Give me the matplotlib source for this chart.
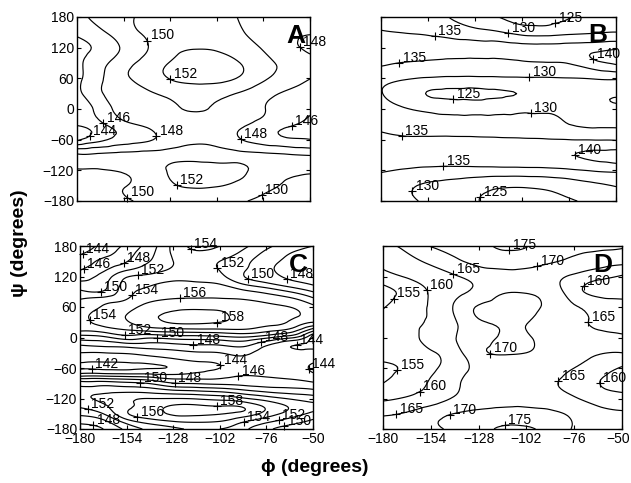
import numpy as np
import matplotlib
matplotlib.use("Agg")
import matplotlib.pyplot as plt
import matplotlib.tri as mtri
from matplotlib.transforms import ScaledTranslation

plt.rcParams['font.family'] = ['Liberation Sans', 'DejaVu Sans']

# ---------------- data ----------------
PHI = [-180, -167, -154, -141, -128, -115, -102, -89, -76, -63, -50]
PSI = [180, 150, 120, 90, 60, 30, 0, -30, -60, -90, -120, -150, -180]
PSI_C = [180, 165, 150, 135, 120, 105, 90, 75, 60, 45, 30, 15, 0,
         -15, -30, -45, -60, -75, -90, -105, -120, -135, -150, -165, -180]

X_TICKS = [-180, -154, -128, -102, -76, -50]
Y_TICKS = [-180, -120, -60, 0, 60, 120, 180]

LEVELS_A = [144, 146, 148, 150, 152]
LEVELS_B = [125, 130, 135, 140]
LEVELS_C = [142, 144, 146, 148, 150, 152, 154, 156, 158]
LEVELS_D = [155, 160, 165, 170, 175]

# panel A energies, one row per psi (180 .. -180), columns follow PHI
A_ROWS = [
    [147.5, 148.6, 149.6, 150.4, 150.9, 151.1, 150.7, 149.9, 149.2, 148.6, 148.3],
    [146.4, 147.6, 149.2, 150.3, 151.2, 151.5, 151.2, 150.2, 149.2, 148.4, 148.1],
    [145.5, 146.5, 148.3, 149.9, 151.4, 151.9, 151.8, 151.0, 149.8, 148.5, 147.7],
    [145.6, 147.3, 149.2, 150.7, 152.1, 153.0, 152.8, 152.0, 150.6, 149.5, 148.6],
    [145.5, 147.7, 149.6, 150.8, 152.1, 152.7, 152.6, 151.8, 150.3, 149.1, 148.05],
    [145.4, 147.8, 148.9, 149.7, 150.4, 150.8, 150.6, 149.8, 148.7, 147.7, 147.1],
    [144.9, 146.7, 148.9, 149.2, 149.7, 150.1, 149.8, 149.0, 148.1, 147.0, 146.2],
    [144.3, 145.6, 147.4, 148.4, 149.1, 149.4, 149.2, 148.4, 147.3, 146.3, 145.7],
    [143.6, 145.5, 146.9, 147.7, 149.0, 149.7, 149.4, 148.1, 147.0, 146.3, 146.05],
    [150.3, 150.4, 150.6, 150.8, 151.0, 151.1, 151.0, 150.8, 150.5, 150.2, 149.9],
    [149.8, 149.8, 150.3, 151.0, 152.2, 152.8, 152.6, 152.3, 151.3, 150.6, 150.4],
    [149.0, 149.4, 149.9, 150.8, 151.8, 152.2, 152.1, 151.5, 150.5, 149.8, 149.3],
    [148.6, 149.1, 149.7, 150.4, 150.9, 151.1, 150.8, 150.2, 149.6, 149.0, 148.6],
]

B_ROWS = [
    [133.0, 132.5, 131.5, 129.8, 127.8, 125.0, 124.3, 124.2, 124.9, 126.2, 127.5],
    [135.5, 134.8, 134.2, 133.0, 131.7, 130.5, 128.2, 127.8, 128.8, 129.5, 130.1],
    [137.5, 137.5, 136.8, 136.5, 136.5, 136.5, 136.5, 136.6, 137.0, 138.0, 139.0],
    [135.8, 134.8, 134.4, 134.0, 133.8, 133.8, 134.3, 134.7, 135.3, 138.5, 140.8],
    [131.5, 130.5, 129.6, 129.2, 129.2, 129.4, 129.6, 129.7, 129.9, 130.2, 130.6],
    [130.2, 127.5, 124.8, 124.2, 124.0, 124.5, 125.3, 127.2, 128.3, 129.2, 129.5],
    [131.5, 130.3, 129.0, 128.4, 128.3, 128.6, 129.1, 129.5, 129.6, 129.5, 129.4],
    [133.5, 132.6, 132.0, 131.6, 131.5, 131.2, 130.9, 130.6, 130.0, 129.5, 129.4],
    [136.5, 135.8, 136.0, 136.2, 136.1, 135.9, 135.7, 135.4, 135.0, 134.8, 134.6],
    [137.5, 137.2, 137.6, 138.0, 138.3, 138.5, 138.7, 139.0, 139.7, 140.8, 141.5],
    [135.5, 134.6, 133.8, 133.4, 133.3, 133.3, 133.4, 133.6, 134.3, 135.4, 136.2],
    [133.0, 131.0, 129.3, 128.3, 127.0, 125.8, 125.6, 126.2, 127.5, 129.0, 130.2],
    [134.0, 131.5, 129.0, 127.0, 125.3, 124.0, 123.5, 123.7, 124.7, 125.6, 127.0],
]

# panel C energies, one column per phi (PHI order), values follow PSI_C
C_COLS = [
    [143.2, 143.8, 145.0, 145.8, 147.0, 148.6, 150.5, 152.0, 153.0, 153.5, 153.5, 152.5, 149.0,
     146.0, 144.0, 142.6, 141.7, 145.5, 151.0, 153.0, 153.5, 152.3, 150.5, 148.5, 147.0],
    [144.5, 145.3, 146.5, 147.5, 148.8, 149.4, 150.2, 152.8, 154.2, 154.8, 154.6, 153.0, 149.5,
     146.5, 144.0, 142.4, 141.6, 145.6, 151.0, 153.4, 154.5, 153.6, 152.0, 149.5, 148.0],
    [146.5, 147.2, 147.9, 149.5, 151.8, 152.8, 153.3, 154.0, 155.3, 156.0, 155.8, 154.0, 151.0,
     147.0, 144.2, 142.5, 141.6, 145.3, 150.5, 153.5, 155.5, 155.5, 155.8, 153.0, 150.5],
    [149.0, 149.5, 150.0, 151.0, 152.5, 153.8, 154.5, 155.5, 156.8, 157.5, 157.3, 154.8, 150.3,
     147.2, 144.8, 142.8, 141.9, 145.0, 149.8, 153.2, 156.0, 157.0, 157.2, 155.0, 152.5],
    [152.5, 152.3, 152.0, 152.2, 153.2, 154.5, 155.3, 156.1, 157.5, 158.3, 158.2, 155.3, 150.8,
     147.5, 145.3, 143.5, 142.2, 144.5, 148.1, 152.4, 156.0, 158.2, 158.3, 156.0, 153.5],
    [154.5, 153.6, 152.8, 152.6, 153.1, 154.4, 155.3, 156.2, 157.6, 158.5, 158.3, 155.5, 151.0,
     147.9, 145.8, 144.2, 143.4, 144.8, 147.8, 152.0, 155.8, 158.3, 158.4, 156.3, 154.3],
    [154.0, 153.0, 152.0, 151.9, 152.5, 154.0, 155.2, 156.2, 157.6, 158.2, 158.0, 155.6, 151.3,
     148.0, 146.0, 144.6, 144.0, 145.3, 147.5, 151.5, 155.3, 158.0, 158.1, 156.0, 154.0],
    [152.5, 151.5, 150.7, 150.3, 150.1, 152.0, 154.5, 156.0, 157.4, 157.7, 157.5, 155.8, 151.8,
     148.5, 146.5, 145.5, 145.2, 146.0, 147.3, 150.5, 154.3, 157.7, 157.3, 154.3, 152.5],
    [150.5, 149.5, 148.8, 148.5, 148.8, 150.5, 153.5, 155.3, 156.8, 157.3, 156.8, 154.8, 150.5,
     146.2, 145.0, 144.6, 144.8, 145.8, 147.0, 149.5, 153.0, 155.6, 155.2, 152.5, 150.5],
    [149.0, 148.0, 147.5, 147.2, 147.6, 149.0, 152.0, 154.5, 156.0, 156.5, 155.8, 153.5, 148.5,
     144.2, 145.0, 145.0, 144.8, 145.5, 146.8, 149.0, 151.8, 153.8, 153.2, 151.0, 149.0],
    [148.0, 147.0, 146.5, 146.3, 146.6, 147.8, 150.0, 152.5, 154.5, 155.0, 154.0, 149.0, 143.8,
     143.5, 144.8, 144.5, 143.6, 144.5, 146.3, 148.5, 151.0, 152.5, 151.5, 149.5, 148.0],
]

D_ROWS = [
    [163.5, 166.5, 170.2, 171.5, 173.8, 175.5, 175.2, 172.5, 171.0, 170.8, 170.5],
    [161.0, 163.5, 166.0, 169.0, 171.5, 172.5, 172.0, 170.5, 169.0, 167.5, 166.5],
    [158.0, 160.5, 162.5, 164.5, 167.0, 168.5, 168.5, 167.0, 164.0, 161.5, 159.5],
    [153.5, 156.5, 160.5, 163.5, 166.5, 169.6, 169.7, 168.0, 162.0, 158.5, 158.0],
    [154.6, 158.0, 160.5, 165.5, 170.4, 171.0, 171.0, 168.8, 165.5, 163.5, 162.5],
    [157.0, 159.0, 160.5, 164.5, 169.2, 170.3, 170.1, 168.0, 166.0, 164.5, 163.8],
    [158.0, 158.8, 161.5, 164.8, 168.0, 170.4, 170.3, 168.5, 166.5, 166.0, 165.7],
    [157.0, 157.5, 159.5, 163.0, 168.8, 170.3, 170.0, 168.5, 166.5, 165.3, 165.0],
    [154.2, 155.8, 159.0, 162.5, 166.5, 168.5, 168.5, 167.0, 165.0, 162.5, 159.5],
    [155.0, 157.5, 160.5, 164.0, 167.5, 169.0, 168.8, 165.8, 163.5, 160.2, 158.0],
    [159.0, 160.5, 162.5, 165.5, 167.5, 168.5, 168.5, 167.5, 165.5, 163.0, 162.0],
    [164.5, 165.5, 168.0, 170.1, 171.3, 172.0, 172.0, 171.0, 169.0, 166.5, 165.5],
    [166.0, 167.5, 169.0, 171.0, 173.5, 175.5, 175.4, 173.5, 169.6, 168.5, 168.0],
]

# approximate spots of the contour labels (phi, psi)
LABELS_A = [(-140.2, 135), (-128.1, 56.7), (-164.4, -21.5), (-172.7, -54), (-135.2, -54),
            (-87.2, -50.9), (-60.2, -34.6), (-56.5, 118.7), (-124.4, -148.7),
            (-150.8, -166.9), (-77.9, -161.8)]
LABELS_B = [(-150.5, 133.7), (-109.6, 148), (-83.7, 167.6), (-170, 90.7), (-98.1, 62),
            (-62.5, 97.2), (-140, 22.8), (-97.6, -18.3), (-168.6, -52.8), (-73, -91.3),
            (-145.5, -107.6), (-164, -158.5), (-128, -163.7)]
LABELS_C = [(-179, 169.5), (-177.2, 130), (-155.8, 146.6), (-147.5, 117), (-168.8, 94),
            (-118.6, 172.8), (-105.6, 133.4), (-86, 120.3), (-64.7, 113.8), (-148.4, 74.4),
            (-124.2, 74.4), (-103.7, 38.4), (-174.4, 35), (-154.9, 5.6), (-136.9, -1),
            (-116.8, -17.4), (-78.6, -14), (-59, -12.8), (-173.5, -63.3), (-101, -53),
            (-91.7, -79.7), (-52.6, -63.3), (-146.5, -89.5), (-127, -89.5), (-175.4, -138.7),
            (-147.5, -148.5), (-103.8, -138.7), (-172.6, -171.5), (-88.9, -163.6),
            (-69.3, -158.4), (-66, -177)]
LABELS_D = [(-175.6, 80), (-151.2, 102), (-140.3, 139), (-96.4, 144), (-111.3, 172),
            (-70.1, 98.7), (-74.7, 34), (-121.2, -28), (-171.7, -66), (-159.9, -106.6),
            (-85.5, -85), (-64.7, -93.6), (-172.2, -161), (-142.6, -165.6), (-113.6, -174)]

# ---------------- drawing ----------------
fig = plt.figure(figsize=(6.31, 4.83), dpi=100)

W, H = 631.0, 483.0
def rect(l, r, t, b):
    return [l / W, 1 - b / H, (r - l) / W, (b - t) / H]

axA = fig.add_axes(rect(77, 310, 17, 201))
axB = fig.add_axes(rect(381, 616, 17, 201))
axC = fig.add_axes(rect(80, 313, 246, 429))
axD = fig.add_axes(rect(383, 622, 246, 429))


def grid_tri(phi, psi):
    P, S = np.meshgrid(phi, psi)
    nx, ny = len(phi), len(psi)
    tris = []
    for j in range(ny - 1):
        for i in range(nx - 1):
            a = j * nx + i
            b = a + 1
            c = a + nx
            d = c + 1
            tris.append([a, b, d])
            tris.append([a, d, c])
    return mtri.Triangulation(P.ravel(), S.ravel(), np.array(tris))


def panel(ax, phi, psi, z, levels, label_pts, letter, letter_xy, xlab, ylab):
    tri = grid_tri(phi, psi)
    zz = np.asarray(z, dtype=float).ravel()
    interp = mtri.CubicTriInterpolator(tri, zz, kind='min_E')
    refiner = mtri.UniformTriRefiner(tri)
    rt, rz = refiner.refine_field(zz, triinterpolator=interp, subdiv=3)
    cs = ax.tricontour(rt, rz, levels=levels, colors='k', linewidths=0.85)
    texts = ax.clabel(cs, manual=label_pts, inline=False, fmt='%d', fontsize=9)
    for t in list(texts):
        x, y = t.get_position()
        s = t.get_text()
        t.remove()
        ax.plot([x], [y], marker='+', color='k', ms=6, mew=0.8, clip_on=False)
        ax.annotate(s, (x, y), xytext=(2.5, 0.8), textcoords='offset points',
                    ha='left', va='baseline', fontsize=10, color='k',
                    annotation_clip=False)
    ax.set_xlim(-180, -50)
    ax.set_ylim(-180, 180)
    ax.set_xticks(X_TICKS)
    ax.set_yticks(Y_TICKS)
    ax.tick_params(direction='in', length=3, width=0.8, top=True, right=True,
                   labelsize=10, pad=2)
    if not xlab:
        ax.set_xticklabels([])
    if not ylab:
        ax.set_yticklabels([])
    for sp in ax.spines.values():
        sp.set_linewidth(1.0)
    ax.text(letter_xy[0], letter_xy[1], letter, transform=ax.transAxes,
            ha='right', va='baseline', fontsize=19, fontweight='bold')


panel(axA, PHI, PSI, A_ROWS, LEVELS_A, LABELS_A, 'A', (0.98, 0.86), False, True)
panel(axB, PHI, PSI, B_ROWS, LEVELS_B, LABELS_B, 'B', (0.962, 0.864), False, False)
panel(axC, PHI, PSI_C, np.array(C_COLS).T, LEVELS_C, LABELS_C, 'C', (0.979, 0.858), True, True)
panel(axD, PHI, PSI, D_ROWS, LEVELS_D, LABELS_D, 'D', (0.958, 0.858), True, False)

# keep the last tick label of panel D inside the figure
lab = axD.get_xticklabels()[-1]
lab.set_transform(lab.get_transform() + ScaledTranslation(-0.04, 0, fig.dpi_scale_trans))

fig.text(20 / W, 1 - 243 / H, 'ψ (degrees)', rotation=90, ha='center', va='center',
         fontsize=14, fontweight='bold')
fig.text(315 / W, 1 - 468 / H, 'ϕ (degrees)', ha='center', va='center',
         fontsize=14, fontweight='bold')

fig.savefig('out.png', dpi=100)
